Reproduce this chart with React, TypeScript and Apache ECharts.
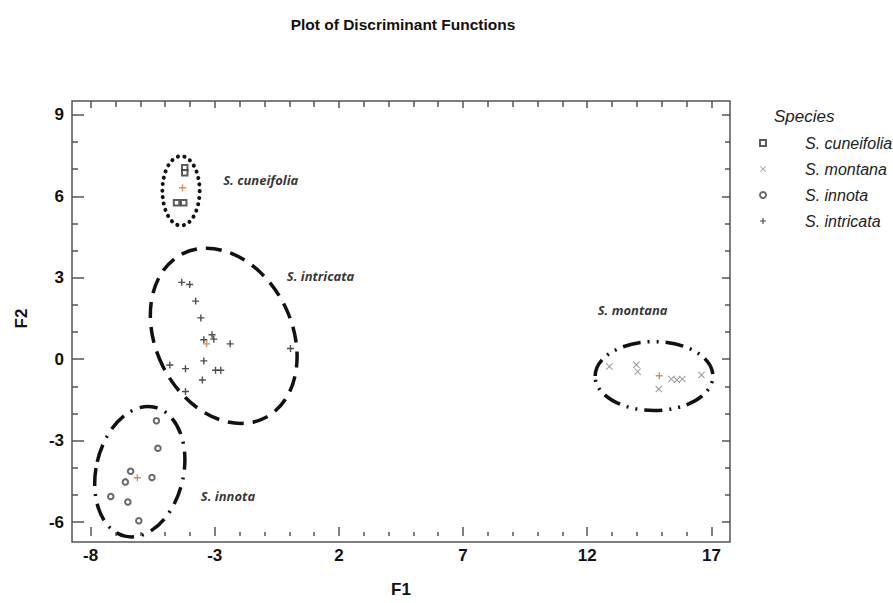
import React, { useEffect, useRef } from "react";
import * as echarts from "echarts";

// ---- data ----
const speciesNames = ["S. cuneifolia", "S. montana", "S. innota", "S. intricata"];

const cuneifoliaPoints = [
  [-4.21, 7.08], [-4.21, 6.9], [-4.54, 5.81], [-4.25, 5.81],
];
const montanaPoints = [
  [12.89, -0.13], [13.98, -0.07], [14.03, -0.32], [14.88, -0.95],
  [15.39, -0.59], [15.61, -0.62], [15.83, -0.59], [16.6, -0.44],
];
const innotaPoints = [
  [-5.35, -2.1], [-5.29, -3.1], [-6.39, -3.93], [-6.6, -4.32],
  [-5.53, -4.16], [-7.19, -4.85], [-6.5, -5.05], [-6.06, -5.73],
];
const intricataPoints = [
  [-4.33, 2.92], [-4.01, 2.84], [-3.77, 2.24], [-3.56, 1.63],
  [-3.44, 0.84], [-3.11, 1.02], [-3.04, 0.86], [-2.38, 0.69],
  [0.05, 0.52], [-4.81, -0.08], [-4.18, -0.21], [-3.44, 0.07],
  [-2.97, -0.27], [-2.76, -0.27], [-3.5, -0.62], [-4.18, -1.04],
];
// group centroids, same order as speciesNames
const centroids = [[-4.3, 6.35], [14.9, -0.47], [-6.12, -4.17], [-3.33, 0.69]];
// ellipses: [centerX, centerY, semiAxisX (F1 units), semiAxisY (F2 units), rotation deg]
const cuneifoliaEllipse = [-4.36, 6.24, 0.75, 1.26, 0];
const montanaEllipse = [14.69, -0.48, 2.37, 1.25, 0];
const innotaEllipse = [-6.02, -3.95, 1.76, 2.4, -13];
const intricataEllipse = [-2.64, 0.98, 2.74, 3.33, 26.5];
// group label anchors (left edge of text)
const labelAnchors = [[-2.66, 6.65], [12.42, 1.9], [-3.56, -4.84], [-0.1, 3.14]];

const xTickValues = [-8, -3, 2, 7, 12, 17];
const yTickValues = [-6, -3, 0, 3, 6, 9];
const xFrame = [-8.75, 17.75];
const yFrame = [-6.5, 9.5];

// ---- layout ----
const W = 893;
const H = 603;
const frameLeft = 72;
const frameRight = 163;
const frameTop = 101;
const frameBottom = 61;

const SANS = "'Liberation Sans', Arial, sans-serif";
const LABEL_FONT = "'Noto Sans', 'Open Sans', sans-serif";

const plusPath = "path://M4,0H6V4H10V6H6V10H4V6H0V4H4Z";
const crossPath = "path://M1,0L5,4L9,0L10,1L6,5L10,9L9,10L5,6L1,10L0,9L4,5L0,1Z";

export default function App() {
  const ref = useRef<HTMLDivElement>(null);

  useEffect(() => {
    if (!ref.current) return;
    const chart = echarts.init(ref.current, undefined, { renderer: "svg" });

    const fw = W - frameLeft - frameRight;
    const fh = H - frameTop - frameBottom;
    const pxX = fw / (xFrame[1] - xFrame[0]);
    const pxY = fh / (yFrame[1] - yFrame[0]);
    const xTickMin = xTickValues[0];
    const xTickMax = xTickValues[xTickValues.length - 1];
    const yTickMin = yTickValues[0];
    const yTickMax = yTickValues[yTickValues.length - 1];
    const offL = (xTickMin - xFrame[0]) * pxX;
    const offR = (xFrame[1] - xTickMax) * pxX;
    const offB = (yTickMin - yFrame[0]) * pxY;
    const offT = (yFrame[1] - yTickMax) * pxY;

    const tickLine = { color: "#555", width: 1.5 };
    const noLine = { show: false, onZero: false };

    const ellipseSeries = (data: number[], style: any) => ({
      type: "custom",
      xAxisIndex: 0,
      yAxisIndex: 0,
      silent: true,
      clip: false,
      data: [data],
      encode: { x: 0, y: 1 },
      renderItem: (params: any, api: any) => {
        const c = api.coord([api.value(0), api.value(1)]);
        const s = api.size([api.value(2), api.value(3)]);
        return {
          type: "ellipse",
          x: c[0],
          y: c[1],
          rotation: (api.value(4) * Math.PI) / 180,
          shape: { cx: 0, cy: 0, rx: s[0], ry: s[1] },
          style: { fill: "none", stroke: "#111", ...style },
        };
      },
    });

    const pointSeries = (name: string, data: number[][], symbol: string, size: number, color: string, bw = 1) => ({
      name,
      type: "scatter",
      xAxisIndex: 0,
      yAxisIndex: 0,
      symbol,
      symbolSize: size,
      data,
      itemStyle: symbol.startsWith("empty") ? { color, borderColor: color, borderWidth: bw } : { color },
      emphasis: { disabled: true },
    });

    chart.setOption({
      animation: false,
      backgroundColor: "#fff",
      title: [
        {
          text: "Plot of Discriminant Functions",
          left: 398,
          top: 11,
          textAlign: "center",
          textStyle: { fontFamily: SANS, fontWeight: "bold", fontSize: 15.5, color: "#111" },
        },
        {
          text: "Species",
          left: 769,
          top: 103,
          textStyle: { fontFamily: SANS, fontStyle: "italic", fontWeight: "normal", fontSize: 17, color: "#222" },
        },
      ],
      legend: {
        data: speciesNames,
        orient: "vertical",
        left: 754,
        top: 128,
        itemWidth: 6,
        itemHeight: 6,
        itemGap: 6,
        selectedMode: false,
        textStyle: {
          fontFamily: SANS,
          fontStyle: "italic",
          fontSize: 16,
          lineHeight: 20,
          color: "#222",
          padding: [0, 0, 0, 34],
        },
      },
      grid: [
        {
          left: frameLeft,
          right: frameRight,
          top: frameTop,
          bottom: frameBottom,
          show: true,
          borderColor: "#555",
          borderWidth: 1.5,
          backgroundColor: "transparent",
        },
        {
          left: frameLeft + offL,
          right: frameRight + offR,
          top: frameTop + offT,
          bottom: frameBottom + offB,
        },
      ],
      xAxis: [
        { gridIndex: 0, type: "value", min: xFrame[0], max: xFrame[1], show: false },
        {
          gridIndex: 1,
          type: "value",
          position: "bottom",
          offset: offB,
          min: xTickMin,
          max: xTickMax,
          interval: xTickValues[1] - xTickValues[0],
          axisLine: noLine,
          axisTick: { show: true, inside: true, length: 9, lineStyle: tickLine },
          minorTick: { show: true, splitNumber: 5, length: 4, lineStyle: tickLine },
          splitLine: { show: false },
          axisLabel: { margin: 11, fontFamily: SANS, fontWeight: "bold", fontSize: 17, color: "#111" },
          name: "F1",
          nameLocation: "middle",
          nameGap: 45,
          nameTextStyle: { fontFamily: SANS, fontWeight: "bold", fontSize: 17, color: "#111" },
        },
        {
          gridIndex: 1,
          type: "value",
          position: "top",
          offset: offT,
          min: xTickMin,
          max: xTickMax,
          interval: xTickValues[1] - xTickValues[0],
          axisLine: noLine,
          axisTick: { show: true, inside: true, length: 7, lineStyle: tickLine },
          minorTick: { show: true, splitNumber: 5, length: 6, lineStyle: tickLine },
          splitLine: { show: false },
          axisLabel: { show: false },
        },
      ],
      yAxis: [
        { gridIndex: 0, type: "value", min: yFrame[0], max: yFrame[1], show: false },
        {
          gridIndex: 1,
          type: "value",
          position: "left",
          offset: offL,
          min: yTickMin,
          max: yTickMax,
          interval: yTickValues[1] - yTickValues[0],
          axisLine: noLine,
          axisTick: { show: true, inside: true, length: 12, lineStyle: tickLine },
          minorTick: { show: true, splitNumber: 3, length: 6, lineStyle: tickLine },
          splitLine: { show: false },
          axisLabel: { margin: 8, fontFamily: SANS, fontWeight: "bold", fontSize: 17, color: "#111" },
          name: "F2",
          nameLocation: "middle",
          nameGap: 42,
          nameTextStyle: { fontFamily: SANS, fontWeight: "bold", fontSize: 17, color: "#111" },
        },
        {
          gridIndex: 1,
          type: "value",
          position: "right",
          offset: offR,
          min: yTickMin,
          max: yTickMax,
          interval: yTickValues[1] - yTickValues[0],
          axisLine: noLine,
          axisTick: { show: true, inside: true, length: 8, lineStyle: tickLine },
          minorTick: { show: true, splitNumber: 3, length: 5, lineStyle: tickLine },
          splitLine: { show: false },
          axisLabel: { show: false },
        },
      ],
      series: [
        ellipseSeries(cuneifoliaEllipse, { lineWidth: 4, lineDash: [0.1, 6.5], lineCap: "round" }),
        ellipseSeries(intricataEllipse, { lineWidth: 3.5, lineDash: [16, 9] }),
        ellipseSeries(innotaEllipse, { lineWidth: 3.5, lineDash: [18, 8, 2, 8] }),
        ellipseSeries(montanaEllipse, { lineWidth: 3.5, lineDash: [18, 7, 2, 7, 2, 7] }),
        pointSeries(speciesNames[0], cuneifoliaPoints, "emptyRect", 5.5, "#333"),
        pointSeries(speciesNames[1], montanaPoints, crossPath, 7, "#808080"),
        pointSeries(speciesNames[2], innotaPoints, "emptyCircle", 5.5, "#444"),
        pointSeries(speciesNames[3], intricataPoints, plusPath, 7, "#222"),
        {
          name: "centroids",
          type: "scatter",
          xAxisIndex: 0,
          yAxisIndex: 0,
          symbol: plusPath,
          symbolSize: 7,
          data: centroids,
          itemStyle: { color: "#c8743a" },
          silent: true,
        },
        {
          name: "group labels",
          type: "scatter",
          xAxisIndex: 0,
          yAxisIndex: 0,
          symbolSize: 0,
          silent: true,
          data: labelAnchors.map((v, i) => ({ name: speciesNames[i], value: v })),
          label: {
            show: true,
            position: "right",
            distance: 0,
            formatter: "{b}",
            fontFamily: LABEL_FONT,
            fontStyle: "italic",
            fontWeight: "bold",
            fontSize: 13,
            color: "#000",
          },
        },
      ],
    });

    return () => chart.dispose();
  }, []);

  return <div ref={ref} style={{ width: W, height: H, position: "absolute", left: 0, top: 0 }} />;
}
